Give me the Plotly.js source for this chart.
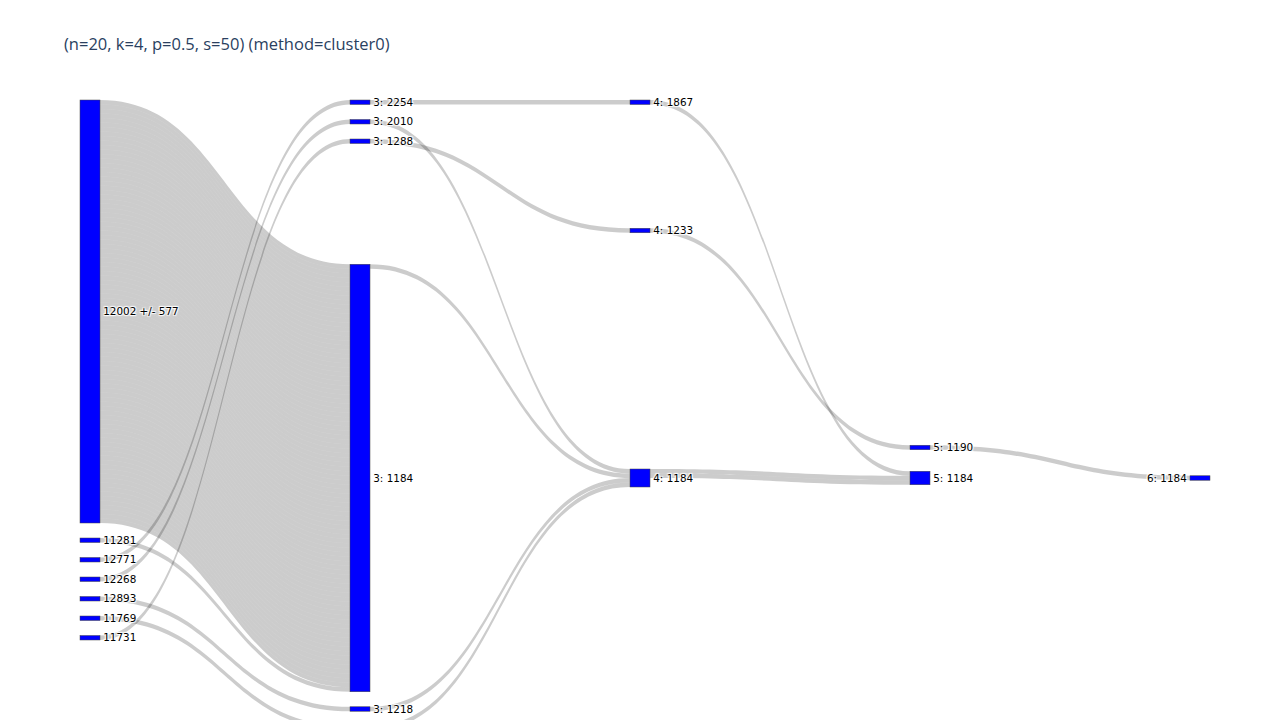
<!DOCTYPE html>
<html>
<head>
<meta charset="utf-8">
<script src="https://cdn.plot.ly/plotly-3.0.1.min.js"></script>
<style>html,body{margin:0;padding:0;background:#fff;}#chart{width:1280px;height:720px;}</style>
</head>
<body>
<div id="chart"></div>
<script>
// Node labels (index order); the last column-1 node lies below the visible area
var nodeLabels = ['12002 +/- 577', '11281', '12771', '12268', '12893', '11769', '11731',
  '3: 2254', '3: 2010', '3: 1288', '3: 1184', '3: 1218', '',
  '4: 1867', '4: 1233', '4: 1184',
  '5: 1190', '5: 1184',
  '6: 1184'];
// Node anchor positions (fractions of plot area)
var nodeX = [0.008929, 0.008929, 0.008929, 0.008929, 0.008929, 0.008929, 0.008929,
  0.25, 0.25, 0.25, 0.25, 0.25, 0.25,
  0.5, 0.5, 0.5,
  0.75, 0.75,
  1.0];
var nodeY = [0.001, 0.002, 0.003, 0.004, 0.005, 0.006, 0.007,
  0.001, 0.002, 0.003, 0.7, 0.95, 0.96,
  0.001, 0.2417, 0.7,
  0.6435, 0.7,
  0.7];
// Links: source, target, number of unit flows
var linkSource = [0, 1, 2, 3, 4, 5, 6, 7, 8, 9, 10, 11, 12, 13, 14, 15, 16];
var linkTarget = [10, 10, 7, 8, 11, 12, 9, 13, 15, 14, 15, 15, 15, 17, 16, 17, 18];
var linkCount  = [94, 1, 1, 1, 1, 1, 1, 1, 1, 1, 1, 1, 1, 1, 1, 2, 1];

// expand each link into unit flows
var src = [], tgt = [], val = [];
for (var i = 0; i < linkSource.length; i++) {
  for (var k = 0; k < linkCount[i]; k++) {
    src.push(linkSource[i]); tgt.push(linkTarget[i]); val.push(1);
  }
}

var trace = {
  type: 'sankey',
  arrangement: 'snap',
  node: {
    label: nodeLabels,
    x: nodeX,
    y: nodeY,
    pad: 15,
    thickness: 20,
    color: 'blue',
    line: {color: '#444', width: 0.5}
  },
  link: {
    source: src,
    target: tgt,
    value: val
  },
  textfont: {color: '#000', size: 10.4, family: '"DejaVu Sans", Verdana, sans-serif'}
};

var layout = {
  width: 1280,
  height: 720,
  title: {text: '(n=20, k=4, p=0.5, s=50) (method=cluster0)', x: 0.05, font: {size: 16.5, color: '#2a3f5f'}},
  font: {family: '"Open Sans", verdana, arial, sans-serif'},
  paper_bgcolor: '#fff',
  margin: {l: 80, r: 80, t: 100, b: 80}
};

Plotly.newPlot('chart', [trace], layout, {displayModeBar: false});
</script>
</body>
</html>
